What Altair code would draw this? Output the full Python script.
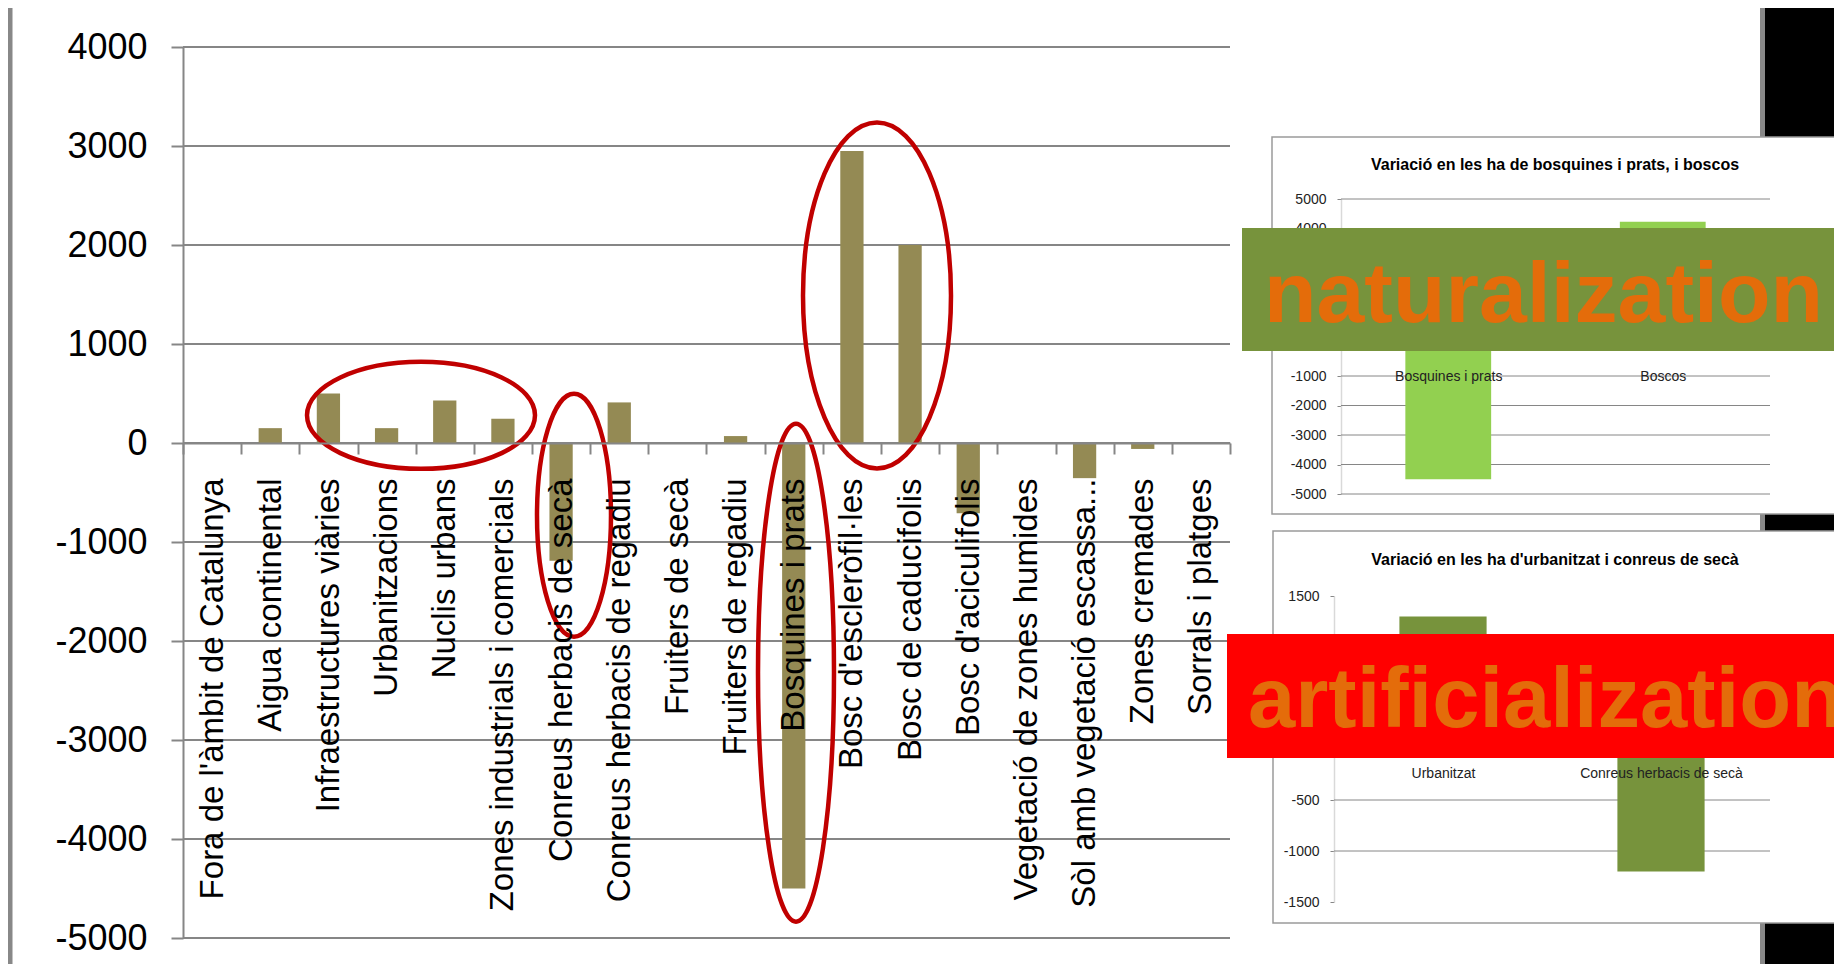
import altair as alt
import pandas as pd

# ---------------- data ----------------
categories = [
    "Fora de l'àmbit de Catalunya", "Aigua continental", "Infraestructures viàries",
    "Urbanitzacions", "Nuclis urbans", "Zones industrials i comercials",
    "Conreus herbacis de secà", "Conreus herbacis de regadiu", "Fruiters de secà",
    "Fruiters de regadiu", "Bosquines i prats", "Bosc d'escleròfil·les",
    "Bosc de caducifolis", "Bosc d'aciculifolis", "Vegetació de zones humides",
    "Sòl amb vegetació escassa...", "Zones cremades", "Sorrals i platges",
]
values = [0, 150, 500, 150, 430, 245, -1190, 410, 0, 70, -4500, 2950, 2000, -710, 0, -355, -60, 0]
main_ticks = [4000, 3000, 2000, 1000, 0, -1000, -2000, -3000, -4000, -5000]

inset1_title = "Variació en les ha de bosquines i prats, i boscos"
inset1_categories = ["Bosquines i prats", "Boscos"]
inset1_values = [-4500, 4230]
inset1_ticks = [5000, 4000, 3000, 2000, 1000, 0, -1000, -2000, -3000, -4000, -5000]

inset2_title = "Variació en les ha d'urbanitzat i conreus de secà"
inset2_categories = ["Urbanitzat", "Conreus herbacis de secà"]
inset2_values = [1300, -1200]
inset2_ticks = [1500, 1000, 500, 0, -500, -1000, -1500]
inset2_grid = [1000, 500, 0, -500, -1000]

# highlight ellipses (annotation): vertical centre in data units
ellipse_vals = [280, -730, -2320, 1490]

FONT = "Liberation Sans"
GRAY = "#868686"
W, H = 1826, 956
PLAIN = "'' + datum.value"

df_main = pd.DataFrame({"cat": categories, "val": values})
df_main_ticks = pd.DataFrame({"val": main_ticks})
df1 = pd.DataFrame({"cat": inset1_categories, "val": inset1_values})
df1_ticks = pd.DataFrame({"val": inset1_ticks})
df2 = pd.DataFrame({"cat": inset2_categories, "val": inset2_values})
df2_grid = pd.DataFrame({"val": inset2_grid})
one = pd.DataFrame({"k": [0]})


def ellipse_path(rx, ry):
    R = max(rx, ry)
    a, b, k = rx / R, ry / R, 0.5523
    f = lambda v: f"{v:.4f}"
    return (f"M {f(a)} 0 C {f(a)} {f(k*b)} {f(k*a)} {f(b)} 0 {f(b)} "
            f"C {f(-k*a)} {f(b)} {f(-a)} {f(k*b)} {f(-a)} 0 "
            f"C {f(-a)} {f(-k*b)} {f(-k*a)} {f(-b)} 0 {f(-b)} "
            f"C {f(k*a)} {f(-b)} {f(a)} {f(-k*b)} {f(a)} 0 Z"), (2 * R) ** 2


def rect(x, x2, y, y2, **kw):
    return alt.Chart(one).mark_rect(**kw).encode(
        x=alt.value(x), x2=alt.value(x2), y=alt.value(y), y2=alt.value(y2))


# ---------------- decorations (frame) ----------------
decor = [rect(0, 4.5, 0, H, color="#888888")]
for (g0, g1) in [(0, 129), (506, 523), (915, H)]:
    decor.append(rect(1752, 1757, g0, g1, color="#888888"))
    decor.append(rect(1757, W, g0, g1, color="black"))
decor.append(rect(1264, 1832, 129, 506, filled=False, stroke="#9a9a9a", strokeWidth=1.5))
decor.append(rect(1265, 1832, 523, 915, filled=False, stroke="#9a9a9a", strokeWidth=1.5))

# ---------------- main chart ----------------
y_main_scale = alt.Scale(domain=[-5000, 4000], range=[930, 39], nice=False)
x_main = alt.X("cat:N", sort=categories, title=None,
               scale=alt.Scale(range=[175, 1222], paddingInner=0, paddingOuter=0),
               axis=alt.Axis(orient="bottom", offset=435 - H, labelAngle=-90, labelFont=FONT,
                             labelFontSize=33, labelColor="black", labelPadding=24, labelLimit=1000,
                             tickBand="extent", tickSize=11, tickWidth=2, tickColor=GRAY,
                             domainColor=GRAY, domainWidth=2, grid=False, zindex=1))
y_main = alt.Y("val:Q", title=None, scale=y_main_scale,
               axis=alt.Axis(orient="left", offset=-175, values=main_ticks, labelExpr=PLAIN,
                             labelFont=FONT, labelFontSize=36, labelColor="black", labelPadding=24,
                             tickSize=12, tickWidth=2, tickColor=GRAY, domainColor=GRAY,
                             domainWidth=2, grid=False, zindex=1))

main_grid = alt.Chart(df_main_ticks).mark_rule(color=GRAY, strokeWidth=2).encode(
    y=alt.Y("val:Q", scale=y_main_scale), x=alt.value(175), x2=alt.value(1222))
main_bars = alt.Chart(df_main).mark_bar(color="#948A54", width=alt.RelativeBandSize(0.4)).encode(
    x=x_main, y=y_main)

# (centre x in pixels, radius x, radius y)
ell_specs = [(413, 114, 53.5), (566, 37, 121.5), (788, 38, 249), (869, 74, 173)]
ellipses = []
for i, (cx, rx, ry) in enumerate(ell_specs):
    path, size = ellipse_path(rx, ry)
    d = pd.DataFrame({"val": [ellipse_vals[i]]})
    ellipses.append(alt.Chart(d).mark_point(shape=path, size=size, filled=False, color="#C00000",
                                            strokeWidth=4.5, opacity=1).encode(
        x=alt.value(cx), y=alt.Y("val:Q", scale=y_main_scale)))

main = alt.layer(main_grid, main_bars, *ellipses)

# ---------------- inset 1 ----------------
y1_scale = alt.Scale(domain=[-5000, 5000], range=[486, 191], nice=False)
inset1_grid = alt.Chart(df1_ticks).mark_rule(color=GRAY, strokeWidth=1).encode(
    y=alt.Y("val:Q", scale=y1_scale), x=alt.value(1333), x2=alt.value(1762))
inset1_bars = alt.Chart(df1).mark_bar(color="#92D050", width=alt.RelativeBandSize(0.4)).encode(
    x=alt.X("cat:N", sort=inset1_categories, title=None,
            scale=alt.Scale(range=[1333, 1762], paddingInner=0, paddingOuter=0),
            axis=alt.Axis(orient="bottom", offset=338.5 - H, labelAngle=0, labelFont=FONT,
                          labelFontSize=14, labelColor="#222222", labelPadding=18, tickBand="extent",
                          tickSize=5, tickOpacity=0, domainOpacity=0, grid=False, zindex=1)),
    y=alt.Y("val:Q", title=None, scale=y1_scale,
            axis=alt.Axis(orient="left", offset=-1333, values=inset1_ticks, labelExpr=PLAIN,
                          labelFont=FONT, labelFontSize=14, labelColor="#222222", labelPadding=11,
                          tickSize=4, tickColor=GRAY, domainColor="#D9D9D9", domainWidth=1.5,
                          grid=False, zindex=0)))
inset1 = alt.layer(inset1_grid, inset1_bars)

# ---------------- inset 2 ----------------
y2_scale = alt.Scale(domain=[-1500, 1500], range=[894, 588], nice=False)
inset2_gridl = alt.Chart(df2_grid).mark_rule(color=GRAY, strokeWidth=1).encode(
    y=alt.Y("val:Q", scale=y2_scale), x=alt.value(1326), x2=alt.value(1762))
inset2_bars = alt.Chart(df2).mark_bar(color="#77933C", width=alt.RelativeBandSize(0.4)).encode(
    x=alt.X("cat:N", sort=inset2_categories, title=None,
            scale=alt.Scale(range=[1326, 1762], paddingInner=0, paddingOuter=0),
            axis=alt.Axis(orient="bottom", offset=741 - H, labelAngle=0, labelFont=FONT,
                          labelFontSize=14, labelColor="#222222", labelPadding=12, tickBand="extent",
                          tickSize=5, tickOpacity=0, domainOpacity=0, grid=False, zindex=1)),
    y=alt.Y("val:Q", title=None, scale=y2_scale,
            axis=alt.Axis(orient="left", offset=-1326, values=inset2_ticks, labelExpr=PLAIN,
                          labelFont=FONT, labelFontSize=14, labelColor="#222222", labelPadding=11,
                          tickSize=4, tickColor=GRAY, domainColor="#D9D9D9", domainWidth=1.5,
                          grid=False, zindex=0)))
inset2 = alt.layer(inset2_gridl, inset2_bars)

# ---------------- titles and overlay boxes ----------------
def text(t, x, y, **kw):
    return alt.Chart(one).mark_text(text=t, font=FONT, **kw).encode(x=alt.value(x), y=alt.value(y))

t1 = text(inset1_title, 1547, 162, fontSize=16, fontWeight="bold", align="center", baseline="alphabetic", color="black")
t2 = text(inset2_title, 1547, 557, fontSize=16, fontWeight="bold", align="center", baseline="alphabetic", color="black")

nat_box = rect(1234, W, 220, 343, color="#77933C")
art_box = rect(1219, W, 626, 750, color="#FF0000")
nat_txt = text("naturalization", 1256, 314, fontSize=86, fontWeight="bold", align="left",
               baseline="alphabetic", color="#E46C0A")
art_txt = text("artificialization", 1240, 719, fontSize=85, fontWeight="bold", align="left",
               baseline="alphabetic", color="#E46C0A")

chart = alt.layer(
    *decor, main, inset1, inset2, t1, t2, nat_box, art_box, nat_txt, art_txt
).resolve_scale(x="independent", y="independent").properties(
    width=W, height=H, autosize=alt.AutoSizeParams(type="none"), padding=0, background="white"
).configure_view(strokeWidth=0)

chart.save("out.html", embed_options={"renderer": "svg", "actions": False})
